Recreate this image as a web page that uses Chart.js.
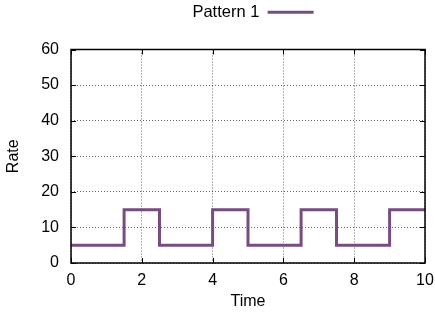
<!DOCTYPE html>
<html>
<head>
<meta charset="utf-8">
<script src="https://cdn.jsdelivr.net/npm/chart.js@4/dist/chart.umd.min.js"></script>
<style>
html,body{margin:0;padding:0;background:#fff;}
#wrap{width:435px;height:320px;}
</style>
</head>
<body>
<div id="wrap"><canvas id="c" width="435" height="320"></canvas></div>
<script>
const seriesName = "Pattern 1";
const times = [0, 1.5, 2.5, 4, 5, 6.5, 7.5, 9, 10];
const rates = [5, 15, 5, 15, 5, 15, 5, 15, 15];
const xTitle = "Time";
const yTitle = "Rate";
const xRange = [0, 10, 2];
const yRange = [0, 60, 10];

const FONT = "'Liberation Sans', Arial, Helvetica, sans-serif";
const FS = 16;
const lineColor = '#774c80';

const frame = {
  id: 'frame',
  afterLayout(chart) {
    if (chart.legend) { chart.legend.left += 5; chart.legend.right += 5; }
  },
  afterDraw(chart) {
    const {ctx, chartArea: a, scales} = chart;
    ctx.save();
    ctx.strokeStyle = '#000';
    ctx.lineWidth = 1;
    ctx.beginPath();
    const tl = 5;
    scales.x.ticks.forEach(t => {
      const px = Math.round(scales.x.getPixelForValue(t.value)) + 0.5;
      ctx.moveTo(px, a.bottom); ctx.lineTo(px, a.bottom - tl);
      ctx.moveTo(px, a.top); ctx.lineTo(px, a.top + tl);
    });
    scales.y.ticks.forEach(t => {
      const py = Math.round(scales.y.getPixelForValue(t.value)) + 0.5;
      ctx.moveTo(a.left, py); ctx.lineTo(a.left + tl, py);
      ctx.moveTo(a.right, py); ctx.lineTo(a.right - tl, py);
    });
    ctx.stroke();
    ctx.lineWidth = 1.5;
    ctx.strokeRect(a.left, a.top, a.right - a.left, a.bottom - a.top);
    ctx.restore();
  }
};

new Chart(document.getElementById('c'), {
  type: 'line',
  data: {
    datasets: [{
      label: seriesName,
      data: times.map((t, i) => ({x: t, y: rates[i]})),
      borderColor: lineColor,
      backgroundColor: lineColor,
      borderWidth: 3,
      pointRadius: 0,
      stepped: 'before',
      fill: false
    }]
  },
  options: {
    responsive: false,
    animation: false,
    layout: {padding: {left: 0, right: 0, top: 0, bottom: 0}},
    plugins: {
      tooltip: {enabled: false},
      legend: {
        position: 'top',
        fullSize: false,
        rtl: true,
        labels: {
          color: '#000',
          font: {family: FONT, size: 16.5},
          boxWidth: 46,
          boxHeight: 3,
          padding: 4,
          generateLabels(chart) {
            const items = Chart.defaults.plugins.legend.labels.generateLabels(chart);
            items.forEach(it => { it.lineWidth = 0; it.fillStyle = lineColor; });
            return items;
          }
        }
      }
    },
    scales: {
      x: {
        type: 'linear',
        min: xRange[0], max: xRange[1],
        border: {display: false, dash: [1, 2]},
        grid: {color: 'rgba(0,0,0,0.6)', drawTicks: false, lineWidth: 1},
        ticks: {stepSize: xRange[2], color: '#000', font: {family: FONT, size: FS}, padding: 8, maxRotation: 0},
        title: {display: true, text: xTitle, color: '#000', font: {family: FONT, size: FS}, padding: {top: 4, bottom: 9}},
        afterFit(s) { s.height = 57; s.paddingRight = 10; }
      },
      x2: {
        type: 'linear',
        position: 'top',
        min: xRange[0], max: xRange[1],
        border: {display: false},
        grid: {display: false},
        ticks: {display: false},
        afterFit(s) { s.height = 19; s.paddingRight = 0; s.paddingLeft = 0; }
      },
      y: {
        min: yRange[0], max: yRange[1],
        border: {display: false, dash: [1, 2]},
        grid: {color: 'rgba(0,0,0,0.6)', drawTicks: false, lineWidth: 1},
        ticks: {stepSize: yRange[2], color: '#000', font: {family: FONT, size: FS}, padding: 12},
        title: {display: true, text: yTitle, color: '#000', font: {family: FONT, size: FS}, padding: {top: 4, bottom: 4}},
        afterFit(s) { s.width = 71; }
      }
    }
  },
  plugins: [frame]
});
</script>
</body>
</html>
